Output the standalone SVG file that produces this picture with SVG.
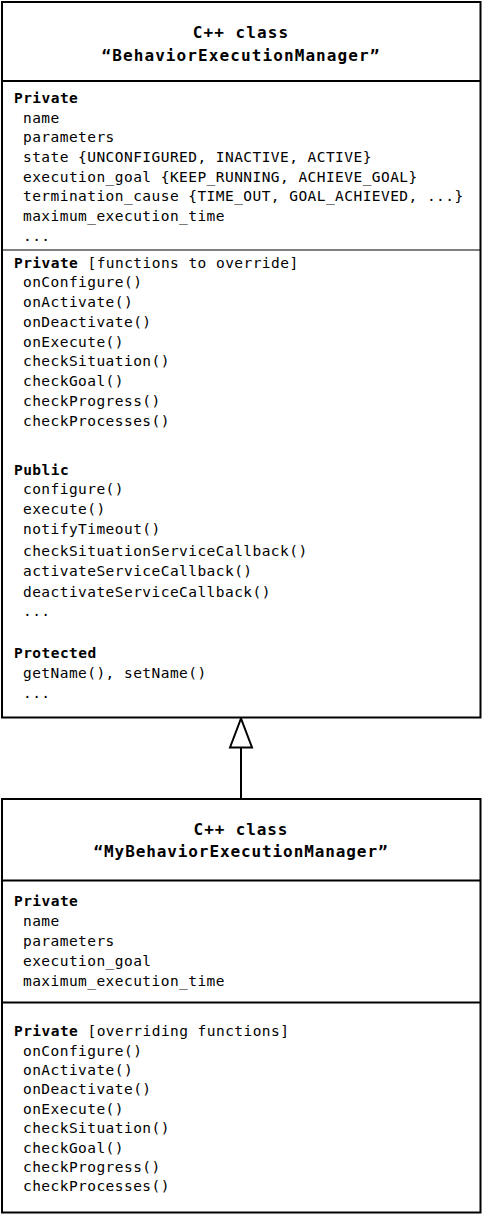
<svg xmlns="http://www.w3.org/2000/svg" width="482" height="1214" viewBox="0 0 482 1214">
<style>
text{font-family:"DejaVu Sans Mono","Liberation Mono",monospace;fill:#000}
.t{font-size:16px;font-weight:bold;letter-spacing:1.1px;text-anchor:middle}
.b{font-size:14.5px;letter-spacing:0.45px}
.h{font-weight:bold}
.box{fill:#fff;stroke:#000;stroke-width:2}
.div{stroke:#000;stroke-width:2}
.thin{stroke:#000;stroke-width:1.2}
</style>
<defs>
<marker id="inherit" markerUnits="userSpaceOnUse" markerWidth="34" markerHeight="28" viewBox="-2 -3 34 28" refX="30" refY="11" orient="auto">
<path d="M1,0 L30,11 L1,22 Z" fill="#fff" stroke="#000" stroke-width="2"/>
</marker>
</defs>
<g id="node-base">
<rect class="box" x="2" y="2" width="478.5" height="715.5"/>
<line class="div" x1="2" y1="81" x2="480.5" y2="81"/>
<line class="thin" x1="2" y1="250" x2="480.5" y2="250"/>
<text class="t" x="241" y="38">C++ class</text>
<text class="t" x="241" y="61">“BehaviorExecutionManager”</text>
<g class="b">
<text class="b h" x="14" y="103">Private</text>
<text class="b" x="23" y="122.5">name</text>
<text class="b" x="23" y="142">parameters</text>
<text class="b" x="23" y="162">state {UNCONFIGURED, INACTIVE, ACTIVE}</text>
<text class="b" x="23" y="181.5">execution_goal {KEEP_RUNNING, ACHIEVE_GOAL}</text>
<text class="b" x="23" y="201">termination_cause {TIME_OUT, GOAL_ACHIEVED, ...}</text>
<text class="b" x="23" y="221">maximum_execution_time</text>
<text class="b" x="23" y="240.5">...</text>
<text class="b" x="14" y="267.5"><tspan class="h">Private</tspan> [functions to override]</text>
<text class="b" x="23" y="287">onConfigure()</text>
<text class="b" x="23" y="307">onActivate()</text>
<text class="b" x="23" y="327">onDeactivate()</text>
<text class="b" x="23" y="346.5">onExecute()</text>
<text class="b" x="23" y="366">checkSituation()</text>
<text class="b" x="23" y="386">checkGoal()</text>
<text class="b" x="23" y="406">checkProgress()</text>
<text class="b" x="23" y="426">checkProcesses()</text>
<text class="b h" x="14" y="475">Public</text>
<text class="b" x="23" y="494">configure()</text>
<text class="b" x="23" y="514">execute()</text>
<text class="b" x="23" y="534">notifyTimeout()</text>
<text class="b" x="23" y="555.5">checkSituationServiceCallback()</text>
<text class="b" x="23" y="576">activateServiceCallback()</text>
<text class="b" x="23" y="596.5">deactivateServiceCallback()</text>
<text class="b" x="23" y="616">...</text>
<text class="b h" x="14" y="657.5">Protected</text>
<text class="b" x="23" y="677.5">getName(), setName()</text>
<text class="b" x="23" y="697.5">...</text>
</g>
</g>
<g id="node-derived">
<rect class="box" x="2" y="799" width="478.5" height="413.5"/>
<line class="div" x1="2" y1="880.5" x2="480.5" y2="880.5"/>
<line class="div" x1="2" y1="1002.5" x2="480.5" y2="1002.5"/>
<text class="t" x="241" y="835" style="letter-spacing:0.9px">C++ class</text>
<text class="t" x="241" y="857" style="letter-spacing:0.9px">“MyBehaviorExecutionManager”</text>
<text class="b h" x="14" y="905.7">Private</text>
<text class="b" x="23" y="925.7">name</text>
<text class="b" x="23" y="945.7">parameters</text>
<text class="b" x="23" y="965.7">execution_goal</text>
<text class="b" x="23" y="985.7">maximum_execution_time</text>
<text class="b" x="14" y="1035.5"><tspan class="h">Private</tspan> [overriding functions]</text>
<text class="b" x="23" y="1055.5">onConfigure()</text>
<text class="b" x="23" y="1074.9">onActivate()</text>
<text class="b" x="23" y="1094.3">onDeactivate()</text>
<text class="b" x="23" y="1113.7">onExecute()</text>
<text class="b" x="23" y="1133.1">checkSituation()</text>
<text class="b" x="23" y="1152.5">checkGoal()</text>
<text class="b" x="23" y="1171.9">checkProgress()</text>
<text class="b" x="23" y="1191.3">checkProcesses()</text>
</g>
<g id="connectors">
<line x1="241" y1="798" x2="241" y2="718.5" stroke="#000" stroke-width="2" marker-end="url(#inherit)"/>
</g>
</svg>
